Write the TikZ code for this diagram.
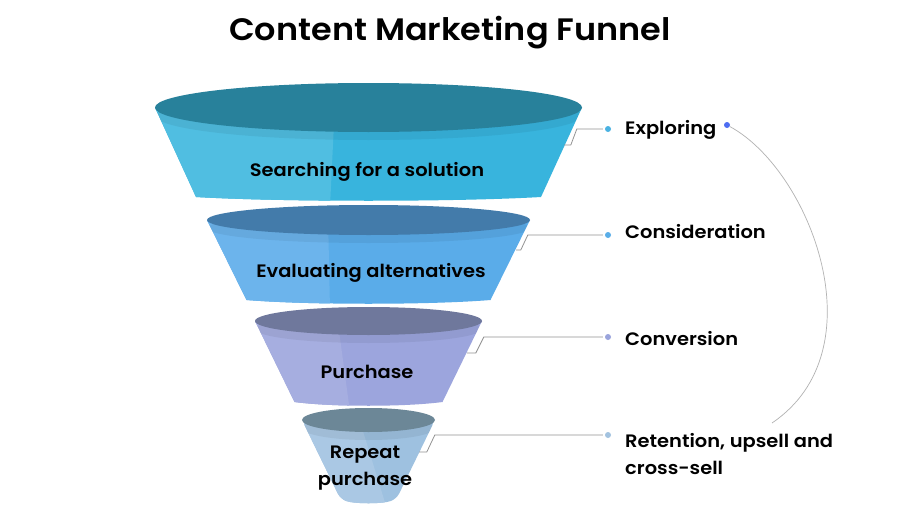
\documentclass[tikz,border=0pt]{standalone}
\usepackage{fontspec}
\setmainfont{Poppins}[BoldFont={Poppins SemiBold}, FakeStretch=1.08]
\definecolor{Atop}{HTML}{28819B}\definecolor{Aleft}{HTML}{50BEE1}\definecolor{Aright}{HTML}{38B4DD}
\definecolor{Btop}{HTML}{437BAA}\definecolor{Bleft}{HTML}{6CB4EC}\definecolor{Bright}{HTML}{5AACE9}
\definecolor{Ctop}{HTML}{6F789C}\definecolor{Cleft}{HTML}{A6AEE0}\definecolor{Cright}{HTML}{9CA5DD}
\definecolor{Dtop}{HTML}{6C8797}\definecolor{Dleft}{HTML}{AAC8E4}\definecolor{Dright}{HTML}{9EC1E0}
\definecolor{dotA}{HTML}{4AB2E2}\definecolor{dotB}{HTML}{5AAEE8}\definecolor{dotC}{HTML}{9AA4DC}\definecolor{dotD}{HTML}{A3C3E0}
\definecolor{arcblue}{HTML}{4D6DF2}
\newcommand\funlayer[9]{%
  \begin{scope}
    \fill[#8right,rounded corners=#9] ({368.5-#2},#1) -- ({368.5-#5},#4) .. controls ({368.5-#5/2},{#4+5}) and ({368.5+#5/2},{#4+5}) .. ({368.5+#5},#4) -- ({368.5+#2},#1) -- cycle;
    \clip[rounded corners=#9] ({368.5-#2},#1) -- ({368.5-#5},#4) .. controls ({368.5-#5/2},{#4+5}) and ({368.5+#5/2},{#4+5}) .. ({368.5+#5},#4) -- ({368.5+#2},#1) -- cycle;
    \fill[#8left] ({368.5-#2-10},{#1-5}) -- (#6,{#1-5}) -- (#7,{#4+10}) -- ({368.5-#2-10},{#4+10}) -- cycle;
    \fill[black,opacity=0.06] (368.5,{#1+8}) ellipse[x radius=#2, y radius=#3];
  \end{scope}
  \fill[#8top] (368.5,#1) ellipse[x radius=#2, y radius=#3];
}
\begin{document}
\begin{tikzpicture}[x=1pt,y=-1pt,
  stagetext/.style={font=\fontsize{18}{27}\selectfont\bfseries, text=black, align=center, inner sep=0pt},
  labeltext/.style={font=\fontsize{18}{27}\selectfont\bfseries, text=black, align=left, inner sep=0pt, anchor=base west},
  dotnode/.style={circle, inner sep=0pt, minimum size=6pt},
  conn/.style={draw=gray!85, line width=0.8pt},
  arcline/.style={draw=gray!60, line width=0.7pt}]
\useasboundingbox (0,0) rectangle (900,506);
\fill[white] (0,0) rectangle (900,506);

\node[font=\fontsize{31}{36}\selectfont\bfseries, anchor=base, inner sep=0pt] (title) at (450,40) {Content Marketing Funnel};

\funlayer{107.5}{213.5}{24.5}{197}{172.5}{335}{330}{A}{0pt}
\funlayer{220}{161.5}{15}{300}{122}{328}{330}{B}{0pt}
\funlayer{321}{113.5}{14}{402}{74}{337}{350}{C}{0pt}
\funlayer{420}{66.5}{12}{499}{28}{358}{387}{D}{6pt}

\node[stagetext, anchor=base] (s1) at (367,176) {Searching for a solution};
\node[stagetext, anchor=base] (s2) at (371,277) {Evaluating alternatives};
\node[stagetext, anchor=base] (s3) at (367,378) {Purchase};
\node[stagetext, anchor=base] (s4) at (365,485) {Repeat\\purchase};

\node[labeltext] (l1) at (625,134) {Exploring};
\node[labeltext] (l2) at (625,238) {Consideration};
\node[labeltext] (l3) at (625,345) {Conversion};
\node[labeltext] (l4) at (625,474) {Retention, upsell and\\cross-sell};

\node[dotnode, fill=dotA] (d1) at (608,129) {};
\node[dotnode, fill=dotB] (d2) at (608,235) {};
\node[dotnode, fill=dotC] (d3) at (608,337) {};
\node[dotnode, fill=dotD] (d4) at (608,435) {};

\coordinate (e1) at (564,145);
\coordinate (e2) at (516,250);
\coordinate (e3) at (467,353);
\coordinate (e4) at (419,452);

\draw[conn] (d1.west) ++(-2,0) -- ++(-26,0) -- ++(-6,16) -- (e1);
\draw[conn] (d2.west) ++(-2,0) -- ++(-75,0) -- ++(-7,15) -- (e2);
\draw[conn] (d3.west) ++(-2,0) -- ++(-119,0) -- ++(-8,16) -- (e3);
\draw[conn] (d4.west) ++(-2,0) -- ++(-168,0) -- ++(-8,17) -- (e4);

\node[dotnode, fill=arcblue] (a0) at (727,125) {};
\coordinate (a1) at (772,423);
\draw[arcline] (a0) .. controls (810,170) and (880,350) .. (a1);
\end{tikzpicture}
\end{document}
